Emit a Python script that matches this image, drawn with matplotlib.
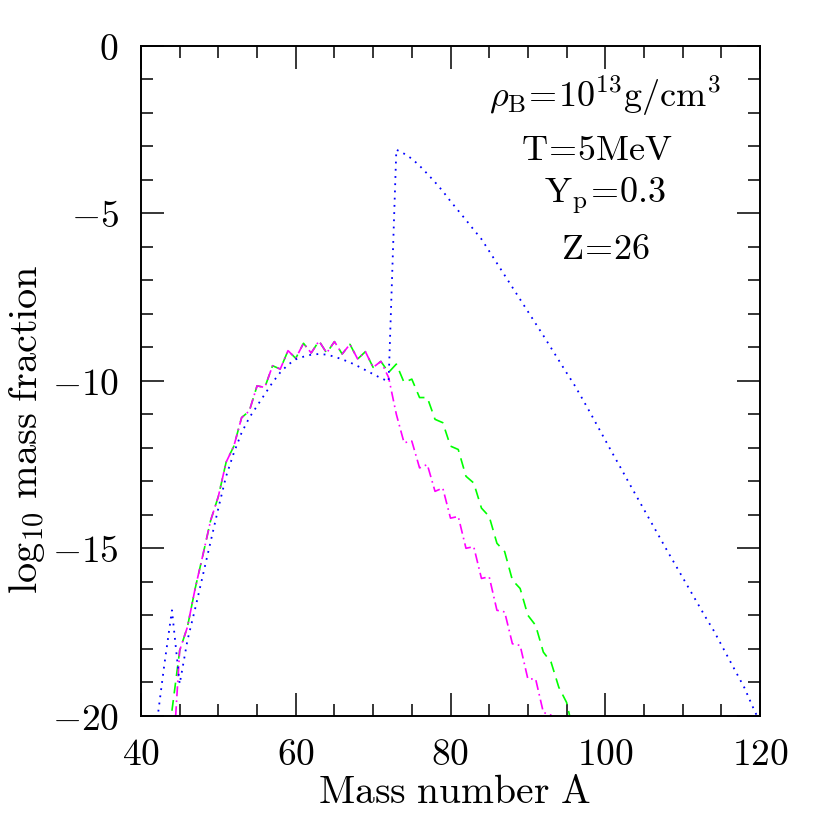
import matplotlib
matplotlib.use('Agg')
import matplotlib.pyplot as plt
from matplotlib.ticker import MultipleLocator

plt.rcParams['mathtext.fontset'] = 'cm'
plt.rcParams['font.family'] = 'serif'

# ---- data ----
A_blue = list(range(42, 121))
blue_vals = [-20.3, -18.5, -16.85, -19.05, -17.75, -16.8, -15.8, -14.8, -13.8, -12.85,
             -12.15, -11.55, -11.1, -10.75, -10.4, -10.05, -9.75, -9.52, -9.36, -9.28,
             -9.22, -9.2, -9.22, -9.28, -9.36, -9.45, -9.56, -9.68, -9.8, -9.92,
             -10.02, -3.10, -3.22, -3.37, -3.58, -3.82, -4.07, -4.34, -4.64, -4.92,
             -5.20, -5.49, -5.77, -6.13, -6.49, -6.85, -7.21, -7.57, -7.93, -8.29,
             -8.65, -9.02, -9.39, -9.76, -10.12, -10.52, -10.93, -11.35, -11.77, -12.19,
             -12.60, -13.02, -13.43, -13.84, -14.25, -14.66, -15.07, -15.47, -15.87, -16.27,
             -16.67, -17.07, -17.45, -17.88, -18.31, -18.74, -19.17, -19.70, -20.2]

common_vals = [-18.05, -17.35, -16.2, -15.2, -14.17, -13.45, -12.43, -11.95, -11.1, -10.9,
               -10.15, -10.2, -9.55, -9.65, -9.1, -9.33, -8.88, -9.17, -8.81, -9.17,
               -8.83, -9.2, -8.91, -9.35, -9.13, -9.6, -9.42]  # A = 45..71

A_green = list(range(44, 97))
green_vals = ([-19.85] + common_vals +
              [-9.75, -9.5, -10.05, -9.95, -10.5, -10.5, -11.15, -11.25, -11.95, -12.05,
               -12.85, -13.05, -13.8, -14.05, -14.85, -15.1, -15.95, -16.2, -17.0, -17.3,
               -18.1, -18.4, -19.15, -19.6, -20.6])

A_magenta = list(range(44, 95))
magenta_vals = ([-21.8] + common_vals +
                [-9.9, -11.0, -11.85, -11.8, -12.6, -12.5, -13.3, -13.2, -14.1, -14.05,
                 -15.0, -14.95, -15.9, -15.85, -16.85, -16.9, -17.85, -17.9, -18.9, -18.9,
                 -19.9, -19.98, -21.0])

x_ticks = [40, 60, 80, 100, 120]
x_tick_labels = ['40', '60', '80', '100', '120']
y_ticks = [-20, -15, -10, -5, 0]
y_tick_labels = ['-20', '-15', '-10', '-5', '0']

annotations = [r'$\rho_\mathrm{B}\!=\!10^{13}\mathrm{g/cm^3}$',
               r'$\mathrm{T\!=\!5MeV}$',
               r'$\mathrm{Y_p\!=\!0.3}$',
               r'$\mathrm{Z\!=\!26}$']
ann_x = [0.750, 0.737, 0.750, 0.751]
ann_y = [0.909, 0.830, 0.766, 0.682]

# ---- figure ----
fig = plt.figure(figsize=(8.3, 8.3), dpi=100)
ax = fig.add_axes([141 / 830, (830 - 715.8) / 830, (760 - 141) / 830, (715.8 - 45.8) / 830])

ax.plot(A_green, green_vals, color=(0, 1, 0), lw=1.2, dashes=(6.5, 4))
ax.plot(A_magenta, magenta_vals, color=(1, 0, 1), lw=1.2, dashes=(6, 2.5, 1, 2.5))
ax.plot(A_blue, blue_vals, color=(0, 0, 1), lw=1.3, dashes=(1, 3))

ax.set_xlim(40, 120)
ax.set_ylim(-20, 0)
ax.set_xticks(x_ticks)
ax.set_xticklabels(['$%s$' % t for t in x_tick_labels])
ax.set_yticks(y_ticks)
ax.set_yticklabels(['$%s$' % t for t in y_tick_labels])
ax.xaxis.set_minor_locator(MultipleLocator(5))
ax.yaxis.set_minor_locator(MultipleLocator(1))
ax.tick_params(which='both', direction='in', top=True, right=True, colors='black')
ax.tick_params(which='major', length=16.5, width=1.1, labelsize=27)
ax.tick_params(axis='x', which='major', pad=15)
ax.tick_params(axis='y', which='major', pad=16)
ax.tick_params(which='minor', length=8.5, width=1.1)
for sp in ax.spines.values():
    sp.set_linewidth(1.4)

for s, xx, yy in zip(annotations, ann_x, ann_y):
    ax.text(xx, yy, s, transform=ax.transAxes, ha='center', va='baseline', fontsize=26)

fig.text(454 / 830, (830 - 803) / 830, r'$\mathrm{Mass\ number\ A}$',
         ha='center', va='baseline', fontsize=28.5)
fig.text(27 / 830, (830 - 429) / 830, r'$\mathrm{log}_{10}\ \mathrm{mass\ fraction}$',
         ha='center', va='center', rotation=90, fontsize=29)

fig.savefig('out.png', dpi=100)
